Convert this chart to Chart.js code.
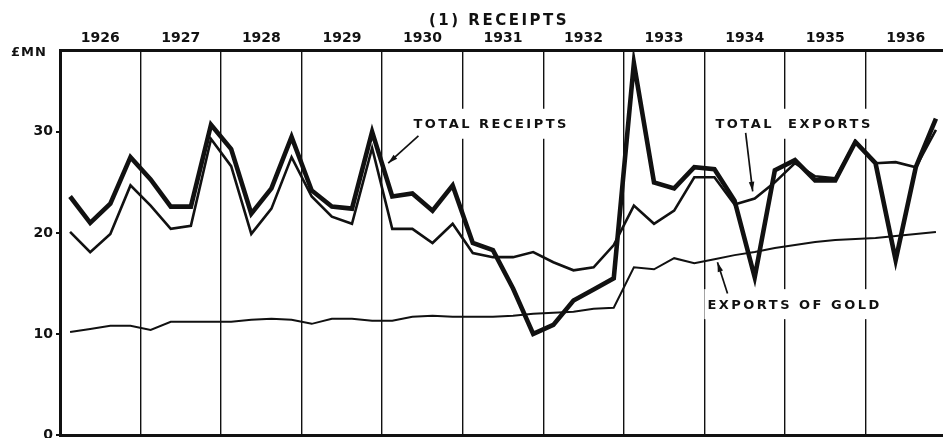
<!DOCTYPE html>
<html>
<head>
<meta charset="utf-8">
<title>(1) Receipts</title>
<script src="https://cdn.jsdelivr.net/npm/chart.js@4.4.1/dist/chart.umd.min.js"></script>
<style>
  html, body { margin: 0; padding: 0; background: #fff; overflow: hidden; }
  #wrap { width: 946px; height: 438px; }
</style>
</head>
<body>
<div id="wrap"><canvas id="receiptsChart" width="946" height="438"></canvas></div>
<script>
// quarterly figures, £ million
const years = ["1926", "1927", "1928", "1929", "1930", "1931", "1932", "1933", "1934", "1935", "1936"];
const quarterNames = ["Q1", "Q2", "Q3", "Q4"];

const totalReceipts = [
    23.6, 21.0, 22.9, 27.5,
    25.3, 22.6, 22.6, 30.7,
    28.3, 21.9, 24.4, 29.5,
    24.2, 22.6, 22.4, 30.0,
    23.6, 23.9, 22.2, 24.7,
    19.0, 18.3, 14.5, 10.0,
    10.9, 13.3, 14.4, 15.5,
    36.8, 25.0, 24.4, 26.5,
    26.3, 23.2, 15.6, 26.2,
    27.2, 25.2, 25.2, 29.0,
    26.9, 17.3, 26.5, 31.3
];

const totalExports = [
    20.1, 18.1, 19.9, 24.7,
    22.7, 20.4, 20.7, 29.3,
    26.6, 19.9, 22.4, 27.5,
    23.6, 21.6, 20.9, 28.4,
    20.4, 20.4, 19.0, 20.9,
    18.0, 17.6, 17.6, 18.1,
    17.1, 16.3, 16.6, 18.8,
    22.7, 20.9, 22.2, 25.5,
    25.5, 22.8, 23.4, 25.0,
    26.9, 25.6, 25.4, 29.0,
    26.9, 27.0, 26.5, 30.2
];

const goldExports = [
    10.2, 10.5, 10.8, 10.8,
    10.4, 11.2, 11.2, 11.2,
    11.2, 11.4, 11.5, 11.4,
    11.0, 11.5, 11.5, 11.3,
    11.3, 11.7, 11.8, 11.7,
    11.7, 11.7, 11.8, 12.0,
    12.1, 12.2, 12.5, 12.6,
    16.6, 16.4, 17.5, 17.0,
    17.4, 17.8, 18.1, 18.5,
    18.8, 19.1, 19.3, 19.4,
    19.5, 19.7, 19.9, 20.1
];

const yTicks = [0, 10, 20, 30];

const quarters = [];
years.forEach((yr) => quarterNames.forEach((q) => quarters.push(yr + " " + q)));

// labels on the chart: text position and arrow given as (quarter index, value)
const callouts = [
    { text: "TOTAL RECEIPTS", at: [17.05, 30.8], from: [17.3, 29.6], to: [15.8, 26.9] },
    { text: "TOTAL  EXPORTS", at: [32.05, 30.8], from: [33.55, 29.9], to: [33.9, 24.1] },
    { text: "EXPORTS OF GOLD", at: [31.65, 12.95], from: [32.65, 14.0], to: [32.15, 17.1] }
];

const ink = "#111";
const letterFont = "bold 13px 'DejaVu Sans', sans-serif";

function drawArrow(ctx, x1, y1, x2, y2) {
    const a = Math.atan2(y2 - y1, x2 - x1);
    const len = 10, spread = 0.28;
    ctx.beginPath();
    ctx.moveTo(x1, y1);
    ctx.lineTo(x2, y2);
    ctx.stroke();
    ctx.beginPath();
    ctx.moveTo(x2, y2);
    ctx.lineTo(x2 - len * Math.cos(a - spread), y2 - len * Math.sin(a - spread));
    ctx.lineTo(x2 - len * Math.cos(a + spread), y2 - len * Math.sin(a + spread));
    ctx.closePath();
    ctx.fill();
}

// no label overhang padding, so the plot sits where the figure has it
function noOverhang(s) {
    s.paddingTop = 0;
    s.paddingBottom = 0;
    s.paddingLeft = 0;
    s.paddingRight = 0;
}

const figureText = {
    id: "figureText",
    afterDraw(chart) {
        const ctx = chart.ctx;
        const x = chart.scales.x;
        const y = chart.scales.y;
        const area = chart.chartArea;

        ctx.save();
        ctx.fillStyle = ink;
        ctx.strokeStyle = ink;
        ctx.textBaseline = "middle";

        // title
        ctx.font = "bold 15px 'DejaVu Sans', sans-serif";
        ctx.letterSpacing = "2.5px";
        ctx.textAlign = "center";
        ctx.fillText("(1) RECEIPTS", (area.left + area.right) / 2 - 4, 21);

        // unit label
        ctx.font = "bold 13px 'DejaVu Sans', sans-serif";
        ctx.letterSpacing = "1px";
        ctx.textAlign = "left";
        ctx.fillText("£MN", 11, 53);

        // callouts
        ctx.font = letterFont;
        ctx.letterSpacing = "2.5px";
        callouts.forEach((c) => {
            const tx = x.getPixelForValue(c.at[0]);
            const ty = y.getPixelForValue(c.at[1]);
            const w = ctx.measureText(c.text).width;
            ctx.fillStyle = "#fff";
            ctx.fillRect(tx - 3, ty - 15, w + 6, 30);
            ctx.fillStyle = ink;
            ctx.fillText(c.text, tx, ty + 1);
            ctx.lineWidth = 1.7;
            drawArrow(ctx,
                x.getPixelForValue(c.from[0]), y.getPixelForValue(c.from[1]),
                x.getPixelForValue(c.to[0]), y.getPixelForValue(c.to[1]));
        });
        ctx.restore();
    }
};

const ctx = document.getElementById("receiptsChart").getContext("2d");
new Chart(ctx, {
    type: "line",
    data: {
        labels: quarters,
        datasets: [
            { label: "Exports of gold", data: goldExports, borderColor: ink, borderWidth: 2 },
            { label: "Total exports", data: totalExports, borderColor: ink, borderWidth: 2.6 },
            { label: "Total receipts", data: totalReceipts, borderColor: ink, borderWidth: 4.6 }
        ]
    },
    options: {
        responsive: false,
        animation: false,
        events: [],
        layout: { padding: 0, autoPadding: false },
        elements: {
            point: { radius: 0 },
            line: { tension: 0, borderJoinStyle: "miter", fill: false }
        },
        plugins: {
            legend: { display: false },
            tooltip: { enabled: false },
            title: { display: false }
        },
        scales: {
            x: {
                type: "category",
                position: "bottom",
                offset: true,
                grid: { display: false },
                ticks: { display: false },
                border: { display: true, color: ink, width: 3 },
                afterFit: (s) => { s.height = 3; noOverhang(s); }
            },
            years: {
                type: "category",
                labels: years,
                position: "top",
                offset: true,
                grid: { display: true, offset: true, color: ink, lineWidth: 1.4, drawTicks: false },
                border: { display: true, color: ink, width: 3 },
                ticks: {
                    color: ink,
                    font: { family: "'DejaVu Sans', sans-serif", size: 14, weight: "bold" },
                    padding: 3,
                    maxRotation: 0,
                    autoSkip: false
                },
                afterFit: (s) => { s.height = 50; noOverhang(s); }
            },
            y: {
                min: 0,
                max: 38.1,
                position: "left",
                grid: { drawOnChartArea: false, drawTicks: true, tickLength: 4, color: ink, lineWidth: 2 },
                border: { display: true, color: ink, width: 3 },
                ticks: {
                    stepSize: 10,
                    includeBounds: false,
                    color: ink,
                    padding: 3,
                    font: { family: "'DejaVu Sans', sans-serif", size: 14, weight: "bold" },
                    callback: (v) => (yTicks.includes(v) ? String(v) : "")
                },
                afterFit: (s) => { s.width = 60; noOverhang(s); }
            }
        }
    },
    plugins: [figureText]
});
</script>
</body>
</html>
